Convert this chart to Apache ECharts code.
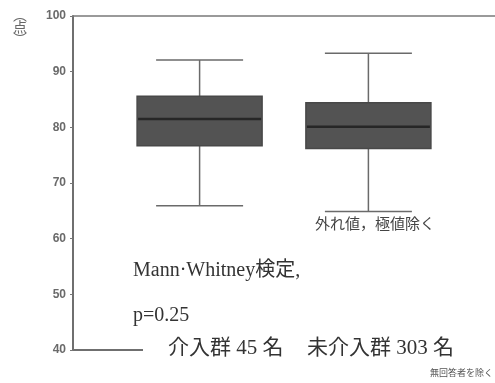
<!DOCTYPE html>
<html>
<head>
<meta charset="utf-8">
<script src="https://cdn.jsdelivr.net/npm/echarts@6/dist/echarts.min.js"></script>
<style>html,body{margin:0;padding:0;background:#fff;}#c{width:495px;height:383px;}</style>
</head>
<body>
<div id="c"></div>
<script>
// ---- data ----
var categories = ['介入群', '未介入群'];
var counts = [45, 303];
// [min, Q1, median, Q3, max]
var boxMin = [65.9, 64.9];
var boxQ1 = [76.7, 76.2];
var boxMedian = [81.5, 80.1];
var boxQ3 = [85.6, 84.4];
var boxMax = [92.1, 93.3];
var yTicks = [40, 50, 60, 70, 80, 90, 100];

// axis categories with spacer slots between the two groups
var axisCats = ['', categories[0], ' ', categories[1], '  '];
var seriesData = categories.map(function (c, i) {
  return [axisCats.indexOf(c), boxMin[i], boxQ1[i], boxMedian[i], boxQ3[i], boxMax[i]];
});

var BOX_W = 125, CAP_W = 87;
var WHISKER = '#6a6a6a', BOX_FILL = '#535353', BOX_EDGE = '#484848', MED = '#262626';
var serif = '"Liberation Serif","DejaVu Serif","Noto Sans CJK JP",serif';

var chart = echarts.init(document.getElementById('c'), null, {renderer: 'canvas'});
chart.setOption({
  animation: false,
  backgroundColor: '#fff',
  grid: {left: 73, right: -8, top: 16, bottom: 33, containLabel: false},
  xAxis: [{
    type: 'category', data: axisCats, boundaryGap: true, position: 'bottom',
    axisLine: {show: true, lineStyle: {color: '#6f6f6f', width: 2}},
    axisTick: {show: false}, axisLabel: {show: false}, splitLine: {show: false}
  }, {
    type: 'category', data: axisCats, position: 'top',
    axisLine: {show: true, lineStyle: {color: '#7a7a7a', width: 1.5}},
    axisTick: {show: false}, axisLabel: {show: false}, splitLine: {show: false}
  }],
  yAxis: {
    type: 'value', min: yTicks[0], max: yTicks[yTicks.length - 1], interval: 10,
    axisLine: {show: true, lineStyle: {color: '#6f6f6f', width: 2}},
    axisTick: {show: true, length: 3, lineStyle: {color: '#777'}},
    axisLabel: {color: '#6a6a6a', fontSize: 12, fontWeight: 'bold', margin: 7,
      fontFamily: '"Liberation Sans",Arial,sans-serif'},
    splitLine: {show: false}
  },
  series: [{
    type: 'custom',
    data: seriesData,
    encode: {x: 0, y: [1, 2, 3, 4, 5]},
    renderItem: function (params, api) {
      var x = api.value(0);
      var pMin = api.coord([x, api.value(1)]);
      var pQ1 = api.coord([x, api.value(2)]);
      var pMed = api.coord([x, api.value(3)]);
      var pQ3 = api.coord([x, api.value(4)]);
      var pMax = api.coord([x, api.value(5)]);
      var cx = pMin[0];
      var ls = {stroke: WHISKER, lineWidth: 1.5};
      return {type: 'group', children: [
        {type: 'line', shape: {x1: cx, y1: pMin[1], x2: cx, y2: pQ1[1]}, style: ls},
        {type: 'line', shape: {x1: cx, y1: pQ3[1], x2: cx, y2: pMax[1]}, style: ls},
        {type: 'line', shape: {x1: cx - CAP_W / 2, y1: pMin[1], x2: cx + CAP_W / 2, y2: pMin[1]}, style: ls},
        {type: 'line', shape: {x1: cx - CAP_W / 2, y1: pMax[1], x2: cx + CAP_W / 2, y2: pMax[1]}, style: ls},
        {type: 'rect', shape: {x: cx - BOX_W / 2, y: pQ3[1], width: BOX_W, height: pQ1[1] - pQ3[1]},
          style: {fill: BOX_FILL, stroke: BOX_EDGE, lineWidth: 1.5}},
        {type: 'line', shape: {x1: cx - BOX_W / 2 + 1, y1: pMed[1], x2: cx + BOX_W / 2 - 1, y2: pMed[1]},
          style: {stroke: MED, lineWidth: 2.5}}
      ]};
    }
  }],
  graphic: [
    {type: 'text', left: 13, top: 8, z: 100,
      style: {text: '︵\n点\n︶', fontSize: 14, lineHeight: 12, fill: '#666', align: 'center',
        fontFamily: '"Noto Sans CJK JP",sans-serif'}},
    {type: 'text', left: 315, top: 218, z: 100,
      style: {text: '外れ値，極値除く', fontSize: 15, fill: '#444', fontFamily: serif}},
    {type: 'text', left: 133, top: 261, z: 100,
      style: {text: 'Mann·Whitney検定,', fontSize: 20, fill: '#333', fontFamily: serif}},
    {type: 'text', left: 133, top: 306, z: 100,
      style: {text: 'p=0.25', fontSize: 20, fill: '#333', fontFamily: serif}},
    {type: 'text', left: 143, top: 338, z: 100,
      style: {text: categories[0] + ' ' + counts[0] + ' 名', fontSize: 21, fill: '#333', fontFamily: serif,
        backgroundColor: '#fff', padding: [0, 25, 0, 25]}},
    {type: 'text', left: 300, top: 338, z: 100,
      style: {text: categories[1] + ' ' + counts[1] + ' 名', fontSize: 21, fill: '#333', fontFamily: serif,
        backgroundColor: '#fff', padding: [0, 60, 0, 7]}},
    {type: 'text', right: 2, top: 369, z: 100,
      style: {text: '無回答者を除く', fontSize: 9, fill: '#555', fontFamily: serif}}
  ]
});
</script>
</body>
</html>
